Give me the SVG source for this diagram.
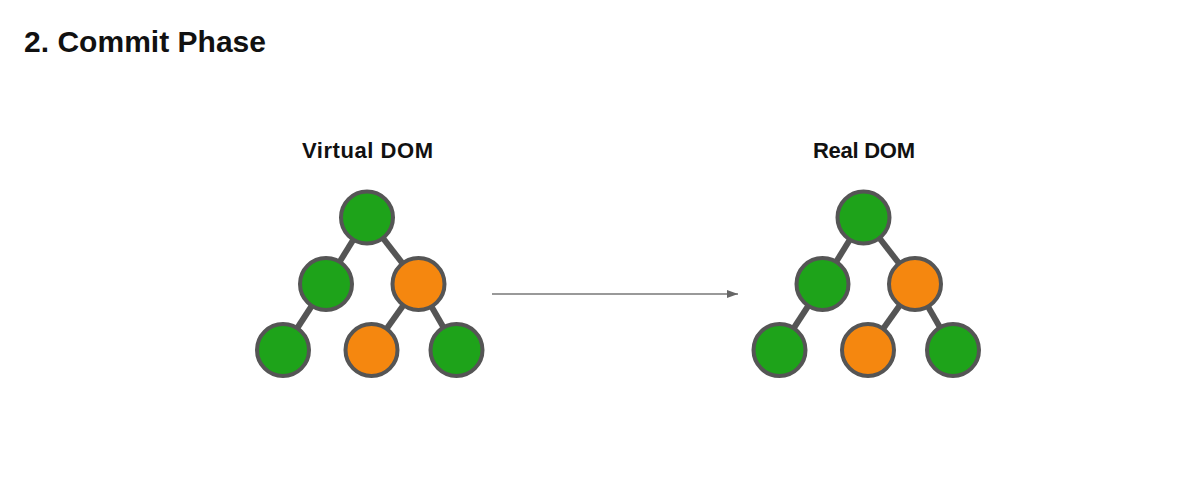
<svg xmlns="http://www.w3.org/2000/svg" width="1190" height="486" viewBox="0 0 1190 486">
<defs>
<style>
.t{font-family:"Liberation Sans",Arial,sans-serif;font-weight:bold;fill:#111}
.g{fill:#1ea31a;stroke:#555;stroke-width:4}
.o{fill:#f5870f;stroke:#555;stroke-width:4}
.e{stroke:#555;stroke-width:6;fill:none}
.a{stroke:#777;stroke-width:1.5;fill:none}
</style>
<marker id="ah" viewBox="0 0 10 10" refX="10" refY="5" markerWidth="11" markerHeight="8" markerUnits="userSpaceOnUse" orient="auto" preserveAspectRatio="none">
<path d="M0,0 L10,5 L0,10 Z" fill="#666"/>
</marker>
</defs>
<rect width="1190" height="486" fill="#fff"/>
<text class="t" x="24" y="52" font-size="30" textLength="242">2. Commit Phase</text>
<text class="t" x="367.5" y="158" font-size="22" text-anchor="middle" textLength="131">Virtual DOM</text>
<text class="t" x="864" y="158" font-size="22" text-anchor="middle" textLength="102">Real DOM</text>
<g id="connectors">
<g id="edges-virtual">
<line class="e" x1="367" y1="217.5" x2="326" y2="284"/>
<line class="e" x1="367" y1="217.5" x2="418.5" y2="284"/>
<line class="e" x1="326" y1="284" x2="283" y2="350"/>
<line class="e" x1="418.5" y1="284" x2="371.5" y2="350"/>
<line class="e" x1="418.5" y1="284" x2="456.5" y2="350"/>
</g>
<g id="edges-real">
<line class="e" x1="863.5" y1="217.5" x2="822.5" y2="284"/>
<line class="e" x1="863.5" y1="217.5" x2="915" y2="284"/>
<line class="e" x1="822.5" y1="284" x2="779.5" y2="350"/>
<line class="e" x1="915" y1="284" x2="868" y2="350"/>
<line class="e" x1="915" y1="284" x2="953" y2="350"/>
</g>
<line id="commit-arrow" class="a" x1="492" y1="294" x2="738" y2="294" marker-end="url(#ah)"/>
</g>
<g id="v-root"><circle class="g" cx="367" cy="217.5" r="26"/></g>
<g id="v-left"><circle class="g" cx="326" cy="284" r="26"/></g>
<g id="v-right"><circle class="o" cx="418.5" cy="284" r="26"/></g>
<g id="v-ll"><circle class="g" cx="283" cy="350" r="26"/></g>
<g id="v-rl"><circle class="o" cx="371.5" cy="350" r="26"/></g>
<g id="v-rr"><circle class="g" cx="456.5" cy="350" r="26"/></g>
<g id="r-root"><circle class="g" cx="863.5" cy="217.5" r="26"/></g>
<g id="r-left"><circle class="g" cx="822.5" cy="284" r="26"/></g>
<g id="r-right"><circle class="o" cx="915" cy="284" r="26"/></g>
<g id="r-ll"><circle class="g" cx="779.5" cy="350" r="26"/></g>
<g id="r-rl"><circle class="o" cx="868" cy="350" r="26"/></g>
<g id="r-rr"><circle class="g" cx="953" cy="350" r="26"/></g>
</svg>
